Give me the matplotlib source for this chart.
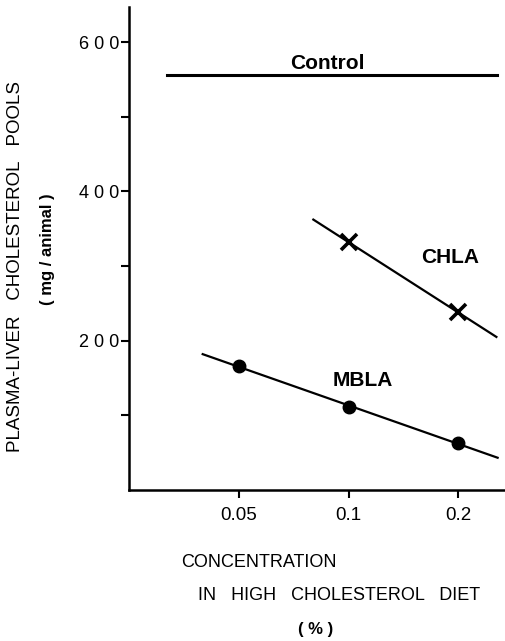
import matplotlib
matplotlib.use("Agg")
import matplotlib.pyplot as plt
import numpy as np

plt.rcParams['font.family'] = ['Liberation Sans', 'DejaVu Sans']

# concentration in diet (%)
conc = [0.05, 0.1, 0.2]
chla_conc = [0.1, 0.2]
chla_vals = [332, 238]
mbla_vals = [166, 111, 63]
control_val = 556

# extent of the drawn lines (x range)
control_span = [0.0316, 0.256]
chla_span = [0.080, 0.255]
mbla_span = [0.0397, 0.257]

fig = plt.figure(figsize=(5.06, 6.41), dpi=100)
ax = fig.add_axes([0.255, 0.2356, 0.745, 0.7534])

ax.set_xscale('log')
ax.set_xlim(0.0249, 0.271)
ax.set_ylim(0, 647)

# control level
ax.plot(control_span, [control_val, control_val], color='black', lw=2.2)

# regression lines in log(x)
def fit_line(xs, ys, span):
    k, b = np.polyfit(np.log(xs), ys, 1)
    xx = np.array(span)
    return xx, k * np.log(xx) + b

xx, yy = fit_line(chla_conc, chla_vals, chla_span)
ax.plot(xx, yy, color='black', lw=1.6)
ax.plot(chla_conc, chla_vals, 'x', color='black', ms=12, mew=2.6)

xx, yy = fit_line(conc, mbla_vals, mbla_span)
ax.plot(xx, yy, color='black', lw=1.6)
ax.plot(conc, mbla_vals, 'o', color='black', ms=9)

ax.text(0.0873, 572, 'Control', fontsize=15, fontweight='bold', ha='center', va='center')
ax.text(0.190, 312, 'CHLA', fontsize=15, fontweight='bold', ha='center', va='center')
ax.text(0.1096, 147, 'MBLA', fontsize=15, fontweight='bold', ha='center', va='center')

# axes styling
for s in ['top', 'right']:
    ax.spines[s].set_visible(False)
for s in ['left', 'bottom']:
    ax.spines[s].set_linewidth(1.8)

ax.set_xticks(conc)
ax.set_xticklabels(['0.05', '0.1', '0.2'])
ax.xaxis.set_minor_locator(matplotlib.ticker.NullLocator())
ax.set_yticks([200, 400, 600])
ax.set_yticklabels(['2 0 0', '4 0 0', '6 0 0'])
ax.set_yticks([100, 300, 500], minor=True)
ax.tick_params(axis='both', which='both', direction='out', width=1.5, length=6,
               labelsize=13)
ax.tick_params(axis='x', labelsize=13.5)
ax.tick_params(axis='y', pad=1)
ax.tick_params(axis='x', pad=6)

fig.text(0.030, 0.585, 'PLASMA-LIVER   CHOLESTEROL   POOLS', rotation=90,
         ha='center', va='center', fontsize=13.5)
fig.text(0.093, 0.6115, '( mg / animal )', rotation=90,
         ha='center', va='center', fontsize=12, fontweight='bold')
fig.text(0.358, 0.123, 'CONCENTRATION', ha='left', va='center', fontsize=13)
fig.text(0.391, 0.071, 'IN   HIGH   CHOLESTEROL   DIET', ha='left', va='center', fontsize=13)
fig.text(0.623, 0.018, '( % )', ha='center', va='center', fontsize=12, fontweight='bold')

fig.savefig('out.png', dpi=100)
